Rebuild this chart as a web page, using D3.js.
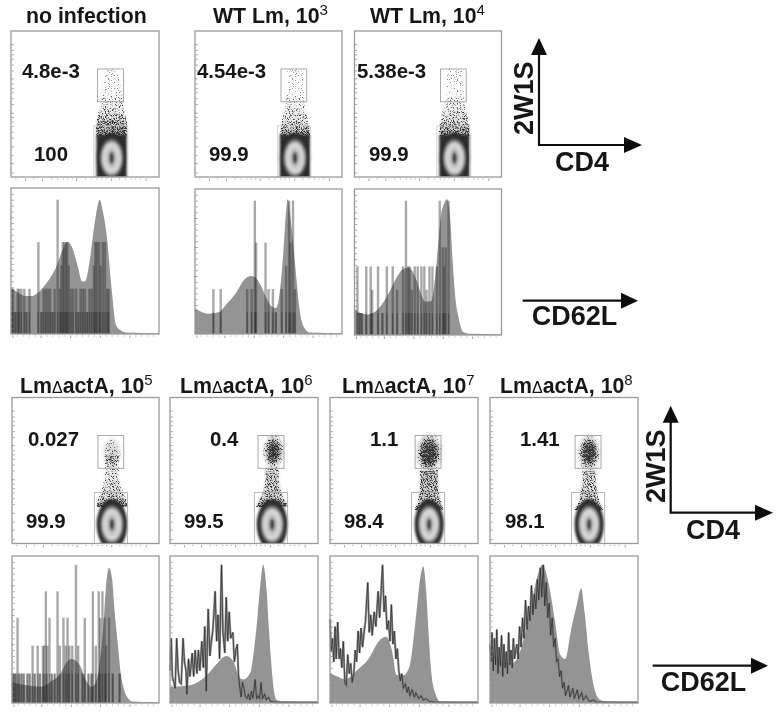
<!DOCTYPE html>
<html><head><meta charset="utf-8">
<style>html,body{margin:0;background:#fff}svg{display:block}text{font-family:"Liberation Sans",Arial,sans-serif;font-weight:bold;fill:#161616}</style>
<script src="https://cdn.jsdelivr.net/npm/d3@7"></script></head><body>
<svg id="c" width="778" height="714"></svg>
<script>
// ---- titles and readouts
const titles=[["no infection",""],["WT Lm, 10","3"],["WT Lm, 10","4"],["Lm|actA, 10","5"],["Lm|actA, 10","6"],["Lm|actA, 10","7"],["Lm|actA, 10","8"]];
const upperValues=["4.8e-3","4.54e-3","5.38e-3","0.027","0.4","1.1","1.41"];
const lowerValues=["100","99.9","99.9","99.9","99.5","98.4","98.1"];
// ---- density of the dot plots: [level, half width, density]
const cloud0=[[27,10.5,.9],[31,10.5,.8],[35,10.5,.62],[39,10,.45],[44,9,.3],[50,7.5,.18],[58,6.5,.09],[66,6,.05],[74,3,.02]];
const cloud1=[[27,10.5,.9],[31,10,.65],[35,9.5,.45],[40,8.5,.3],[46,7,.2],[52,6,.12],[60,6,.05],[74,5,.02]];
const cloud2=[[27,10.5,.9],[31,10.3,.72],[35,10,.52],[40,9,.36],[46,8,.22],[52,6.5,.12],[60,6,.05],[74,5,.03]];
const cloud3=[[25,10.5,.9],[30,9.5,.55],[35,7.5,.4],[40,6,.34],[45,5,.28],[51,4.5,.25],[60,5,.2]];
const cloud4=[[25,10.5,.9],[30,8.5,.55],[35,6,.55],[41,5,.55],[47,4.5,.5],[52,5,.45]];
const cloud5=[[23,9.5,.9],[28,8,.6],[35,6.5,.65],[42,6,.65],[50,6,.65]];
const cloud6=[[23,9.5,.9],[28,7,.55],[35,5.5,.55],[42,4.5,.5],[50,5,.5]];
const clouds=[cloud0,cloud1,cloud2,cloud3,cloud4,cloud5,cloud6];
// [centre, level, half width, half height, density]
const clusters=[[],[],[],[[68,63,7,11,.55]],[[70,63,8,13,1],[70,63,4.5,9,1]],[[67,62,10,15,1],[67,62,7,11,1]],[[67,62,8.5,14,1],[67,63,5.5,9,1]]];
const coreCentres=[68,68,68,68,69,67,67];
// contour levels: half width, half height, tone
const contours=[[10.4,17.5,"#2c2c2c"],[8.6,14.5,"#3c3c3c"],[7.4,12.4,"#8e8e8e"],[6.4,10.6,"#d4d4d4"],[3.4,6.8,"#c0c0c0"],[2,4.8,"#858585"],[1.2,3.2,"#3a3a3a"]];
// ---- filled histograms: [position, height]
const fill0=[[0,32],[5,28],[10,26],[14,26],[18,28],[24,35],[31,47],[35,58],[38,63],[41,60],[45,47],[48,36],[50,36],[53,49],[56,72],[60,92],[62,84],[64.5,69],[68,31],[71,6],[74,2.5],[78,1],[100,.5]];
const fill1=[[0,18],[5,15],[9,14],[16,15],[21,20],[27,27],[34,38],[38,40],[41,39],[45,33],[49,24],[52,19],[55,18],[57,24],[60,55],[62,85],[63,93],[65,80],[67,60],[69,38],[71,18],[74,5],[78,1],[100,.5]];
const fill2=[[0,18],[4,15],[8,14],[14,16],[20,23],[25,32],[29,40],[33,45],[37,46],[42,38],[45,29],[48,23],[52,23],[54,32],[56,51],[59,83],[61,90],[63,93],[65,81],[67,47],[69,22],[70.6,13],[74,2],[78,.8],[100,.5]];
const fill3=[[0,14],[10,12],[20,11],[27,15],[33,20],[36,26],[40,30],[43,29],[47,24],[50,16],[54,11],[57,14],[60,30],[62,50],[64,80],[66,92],[68,85],[70,60],[72,40],[74,20],[76,10],[79,3],[82,1],[100,.5]];
const fill4=[[0,11],[2,11],[13.5,12],[25,19],[31,26],[38,32],[43,28],[47,17],[49.5,16],[54,20],[56,30],[58.4,51],[61,80],[63,94],[65,80],[67,48],[68.5,26],[70,10],[72,2],[76,1],[100,.5]];
const fill5=[[0,20],[5,18],[10,16],[19,23],[26,30],[33,42],[38,45],[42,35],[45,19],[50,19],[54,26],[57.5,53],[61,85],[63,93],[65,76],[66.5,50],[68,26],[71,7],[74.5,1],[100,.5]];
const fill6=[[0,35],[4,32],[8,28],[15,27],[21,37],[26,58],[30.5,80],[35.4,94],[39.5,82],[44,55],[47.4,33],[50.8,30],[55,51],[58.7,67],[61.6,78],[63.9,62],[66.6,35],[70,12],[74.5,2],[79,1],[100,.5]];
const fills=[fill0,fill1,fill2,fill3,fill4,fill5,fill6];
// ---- sparse histograms: event bars [position, height]
const bars0=[[.5,31],[1.5,31],[3,15],[4.5,31],[5.5,31],[7,31],[9,31],[10.5,15],[12.5,31],[18.5,63],[20.5,15],[22,31],[23.5,31],[25,31],[26.5,31],[28,15],[29.5,31],[31.5,92],[33,31],[34,47],[35,63],[36,63],[37,63],[38,63],[39,47],[40.5,31],[42,31],[44,31],[45.5,15],[47,31],[48.5,31],[50,31],[51.5,15],[53,31],[54.5,31],[56,47],[57,63],[58,63],[59.5,63],[60.5,47],[62,63],[63.5,63],[65,31],[66,31]];
const bars1=[[12.5,31],[17.5,31],[35.5,31],[38.5,31],[40.7,92],[41.5,63],[48,63],[50,31],[53,31],[55,15],[59,31],[62,47],[64,92],[65,63],[66.7,92],[68,31]];
const bars2=[[2,47],[3.5,15],[5,15],[8,47],[11,47],[12,31],[16,47],[19,15],[22,47],[26,47],[29,31],[33,47],[35,92],[36.5,47],[37.5,47],[39,31],[41,47],[43,47],[45.5,47],[47.5,47],[49,31],[51,47],[53,47],[56,47],[58,92],[60,60],[61,47],[62,60],[64,92]];
const bars3=[[.5,20],[1.5,20],[2.5,20],[3.8,58],[5,20],[6.5,20],[8,20],[10.5,20],[12,20],[14,39],[15.5,20],[17.5,39],[19,20],[21,39],[22,39],[23,76],[24,39],[25.5,58],[27,20],[29,20],[31,76],[32.5,39],[35,58],[36.5,39],[37.8,58],[39,39],[41,39],[43.5,94],[45,39],[48,20],[49.5,58],[52,20],[54,20],[55,76],[57,39],[59,76],[60,58],[61.5,76],[63,58],[64,39],[66,58],[68.5,20],[73.2,20]];
const barsSets=[bars0,bars1,bars2,bars3];
// ---- noisy histograms: [position, height]
const line4=[[0,22],[.8,44],[1.6,18],[2.6,14],[3.5,10],[4.5,44],[5.5,22],[6.5,14],[7.6,13],[8.8,44],[9.8,28],[10.8,22],[11.4,6],[12.5,30],[13.5,18],[15,34],[16,18],[17,36],[18.2,20],[19.2,36],[20.2,22],[21.5,42],[22.5,24],[23.5,52],[24.5,8],[25.8,64],[27,32],[28,42],[29,50],[30.5,76],[31.5,42],[32.5,60],[33.5,30],[34.8,94],[35.8,48],[37,34],[38,72],[39,42],[40,62],[41,44],[42.5,48],[43.5,28],[44.5,36],[45.5,40],[46.2,20],[47,12],[48,4],[49,14],[50,10],[51,4],[52,3],[53,6],[54,2],[55,8],[56,3],[57.5,16],[58.5,3],[59.5,5],[60.5,3],[61.5,14],[62.5,3],[64,6],[65,2],[66.5,4],[68,1],[72,.5],[100,.5]];
const line5=[[0,57],[.8,35],[1.6,44],[2.6,28],[3.4,52],[4.2,30],[5.2,55],[6.2,30],[7,37],[8,24],[9,42],[10,14],[11,12],[12,33],[13,20],[14,27],[15,14],[16.2,21],[17,36],[18,28],[19,49],[20,34],[21,51],[22,38],[23,48],[24,56],[25.5,82],[26.5,48],[27.5,60],[28.5,46],[29.8,62],[31,52],[32.5,76],[33.5,58],[34.2,70],[35.5,94],[36.5,62],[37.5,73],[38.5,50],[39.5,56],[40.5,42],[41.5,67],[42.5,40],[43.5,49],[44.5,30],[45.5,37],[46.5,22],[47.5,15],[48.5,20],[49.5,10],[51,13],[52,7],[53,11],[54,5],[55.5,9],[57,4],[58,7],[60,3],[61.5,5],[63,2],[65,3],[67,1],[72,.5],[100,.5]];
const line6=[[0,40],[.7,28],[1.4,48],[2.2,22],[3,44],[3.8,26],[4.6,50],[5.4,20],[6.2,38],[7,25],[7.8,46],[8.6,18],[9.4,40],[10.2,24],[11,35],[11.8,20],[12.6,48],[13.4,26],[14.2,36],[15,24],[15.8,44],[16.6,30],[17.4,36],[18.2,40],[19,30],[20,52],[21,38],[22,58],[23,44],[24,70],[25,50],[26,66],[27,56],[28,80],[29,60],[30,74],[31,64],[32,84],[33,70],[34,92],[35,72],[36,94],[37,66],[38,82],[39,58],[40,68],[41,46],[42,58],[43,38],[44,44],[45,28],[46,30],[47,18],[48,22],[49,10],[50,14],[51,5],[52,8],[53,12],[54,4],[55,7],[56,10],[57,3],[58,6],[59,9],[60,3],[62,7],[63,2],[65,5],[67,1],[70,2],[72,.5],[100,.5]];
const noisy={4:line4,5:line5,6:line6};
// ---- axis tick positions
const majorTicks=[9.5,21,44,67.5,91];
const minorTicks=[3,15,27,31,35,38,41,50,54,58,61,64,73,77,81,84,87];
const histMajor=[1,20,40,60,80];
const histMinor=[4,8,12,16,24,28,32,36,44,48,52,56,64,68,72,76,84,88,92,96];

// ---- layout
const lefts=[11,195,354.5,12,170,330,490];
const widths=[148,147,147,147,148,148,148];
const dotTops=[31,31,31,397.5,397.5,397.5,397.5];
const histTops=[188,189,189,556,556,556,556];
const panelH=146,histH=[146,145,146,147,147,147,147];
const titlePos=[[26,22.5],[213,23],[370,23],[20,393],[180,393],[342,393],[500,393]];
const upperPos=[[22,78],[197,78],[357,78],[28,446],[210,446],[370,446],[520,446]];
const lowerPos=[[34,161],[209,161],[369,161],[26,528],[184,528],[344,528],[505,528]];
const frame="#9a9a9a",tick="#808080";

const svg=d3.select("#c");
const defs=svg.append("defs");
const soft=defs.append("filter").attr("id","soft").attr("x","-2%").attr("y","-2%").attr("width","104%").attr("height","104%");
soft.append("feGaussianBlur").attr("stdDeviation",.45);
defs.append("filter").attr("id","wash").attr("x","-30%").attr("y","-30%").attr("width","160%").attr("height","160%").append("feGaussianBlur").attr("stdDeviation",1.3);
defs.append("filter").attr("id","contourSoft").attr("x","-20%").attr("y","-20%").attr("width","140%").attr("height","140%").append("feGaussianBlur").attr("stdDeviation",.8);
const st=defs.append("filter").attr("id","stipple").attr("x","-20%").attr("y","-20%").attr("width","140%").attr("height","140%").attr("color-interpolation-filters","sRGB");
st.append("feTurbulence").attr("type","fractalNoise").attr("baseFrequency",1.3).attr("numOctaves",1).attr("seed",7).attr("result","n");
st.append("feColorMatrix").attr("in","n").attr("type","matrix").attr("values","0 0 0 0 0  0 0 0 0 0  0 0 0 0 0  2.6 0 0 0 -.8").attr("result","m");
st.append("feComposite").attr("in","SourceAlpha").attr("in2","m").attr("operator","arithmetic").attr("k1",0).attr("k2",1).attr("k3",1).attr("k4",-1).attr("result","a");
st.append("feColorMatrix").attr("in","a").attr("type","matrix").attr("values","0 0 0 0 .18  0 0 0 0 .18  0 0 0 0 .18  0 0 0 2.2 0");
const rg=defs.append("radialGradient").attr("id","blob");
rg.append("stop").attr("offset","0").attr("stop-color","#000").attr("stop-opacity",.95);
rg.append("stop").attr("offset",".6").attr("stop-color","#000").attr("stop-opacity",.7);
rg.append("stop").attr("offset","1").attr("stop-color","#000").attr("stop-opacity",0);

const root=svg.append("g").attr("filter","url(#soft)");

function axes(g,x,y,W,H,maj,min){
  [[min,2],[maj,3.5]].forEach(([vals,s])=>{
    g.append("g").attr("transform",`translate(${W*.012+1},0)`).call(d3.axisLeft(y).tickValues(vals).tickSize(s).tickFormat("")).call(a=>{a.select(".domain").remove();a.selectAll("line").attr("stroke",tick).attr("stroke-width",.7)});
    g.append("g").attr("transform",`translate(0,${H+1.5})`).call(d3.axisBottom(x).tickValues(vals).tickSize(s-1).tickFormat("")).call(a=>{a.select(".domain").remove();a.selectAll("line").attr("stroke",tick).attr("stroke-width",.7)});
  });
  g.append("rect").attr("width",W).attr("height",H).attr("fill","none").attr("stroke",frame).attr("stroke-width",1.3);
}

lefts.forEach((L,i)=>{
  const W=widths[i];
  const x=d3.scaleLinear([0,100],[0,W]);
  // dot plot
  const H=panelH,y=d3.scaleLinear([0,100],[H,0]);
  const g=root.append("g").attr("transform",`translate(${L},${dotTops[i]})`);
  const cid="clip"+i;
  defs.append("clipPath").attr("id",cid).append("rect").attr("width",W).attr("height",H);
  const cx=coreCentres[i];
  const pl=g.append("g").attr("clip-path",`url(#${cid})`);
  const prof=clouds[i];
  const drawShapes=(grp,k,floor)=>{
    d3.pairs(prof).forEach(([a,b])=>{
      const rows=Math.max(1,Math.round(y(a[0])-y(b[0])));
      d3.range(rows).forEach(r=>{
        const t=r/rows,lvl=a[0]+(b[0]-a[0])*t,hw=a[1]+(b[1]-a[1])*t,den=a[2]+(b[2]-a[2])*t;
        grp.append("rect").attr("x",x(cx-hw)).attr("width",x(2*hw)).attr("y",y(lvl)-1).attr("height",1).attr("fill","#000").attr("opacity",Math.min(1,floor+den*k));
      });
    });
    clusters[i].forEach(b=>{
      grp.append("ellipse").attr("cx",x(b[0])).attr("cy",y(b[1])).attr("rx",x(b[2])).attr("ry",H-y(b[3])).attr("fill","url(#blob)").attr("opacity",b[4]*Math.max(k,.3));
    });
  };
  drawShapes(pl.append("g").attr("filter","url(#wash)"),.3,0);
  drawShapes(pl.append("g").attr("filter","url(#stipple)"),.78,.24);
  const core=pl.append("g").attr("filter","url(#contourSoft)");
  if(i<3) core.append("rect").attr("x",x(cx-10.3)).attr("width",x(20.6)).attr("y",y(29)).attr("height",y(0)-y(29)+3).attr("rx",2).attr("fill","#2e2e2e");
  const cy=13;
  contours.forEach(c=>{
    const rx=c[0]*(i>=5?.95:1);
    core.append("ellipse").attr("cx",x(cx)).attr("cy",y(cy)).attr("rx",x(rx)).attr("ry",H-y(c[1])).attr("fill",c[2]);
  });
  // gates
  const gateTone=i<3?"#cccccc":"#a8a8a8";
  g.append("rect").attr("x",x(cx-9.5)).attr("width",x(17.5)).attr("y",y(74)).attr("height",y(51.5)-y(74)).attr("fill","none").attr("stroke","#a0a0a0").attr("stroke-width",.9);
  g.append("rect").attr("x",x(cx-12)).attr("width",x(22.5)).attr("y",y(35)).attr("height",y(0)-y(35)).attr("fill","none").attr("stroke",gateTone).attr("stroke-width",.8);
  axes(g,x,y,W,H,majorTicks,minorTicks);
  // histogram
  const HH=histH[i],yh=d3.scaleLinear([0,100],[HH,0]);
  const h=root.append("g").attr("transform",`translate(${L},${histTops[i]})`);
  const area=d3.area().x(d=>x(d[0])).y0(yh(0)).y1(d=>yh(d[1])).curve(d3.curveMonotoneX);
  h.append("path").attr("d",area(fills[i])).attr("fill","#949494");
  if(i<4){
    h.selectAll("rect.bar").data(barsSets[i]).join("rect").attr("class","bar")
      .attr("x",d=>x(d[0])-1.2).attr("width",2.4).attr("y",d=>yh(d[1])).attr("height",d=>yh(0)-yh(d[1]))
      .attr("fill","#2a2a2a").attr("fill-opacity",.4);
    const lowH=i==3?20:15;
    h.selectAll("rect.low").data(barsSets[i]).join("rect").attr("class","low")
      .attr("x",d=>x(d[0])-.7).attr("width",1.4).attr("y",d=>yh(Math.min(d[1],lowH))).attr("height",d=>yh(0)-yh(Math.min(d[1],lowH)))
      .attr("fill","#111").attr("fill-opacity",.3);
  } else {
    const ln=d3.line().x(d=>x(d[0])).y(d=>yh(d[1]));
    h.append("path").attr("d",ln(noisy[i])).attr("fill","none").attr("stroke","#7c7c7c").attr("stroke-width",2.2).attr("stroke-opacity",.8);
    h.append("path").attr("d",ln(noisy[i])).attr("fill","none").attr("stroke","#242424").attr("stroke-width",.8).attr("stroke-opacity",.85);
  }
  axes(h,x,yh,W,HH,histMajor,histMinor);
  // text
  const t=root.append("text").attr("x",titlePos[i][0]).attr("y",titlePos[i][1]).attr("font-size",21.3);
  const parts=titles[i][0].split("|");
  t.append("tspan").text(parts[0]);
  if(parts[1]!==undefined){t.append("tspan").attr("font-size",16).attr("font-weight","normal").text("Δ");t.append("tspan").text(parts[1]);}
  if(titles[i][1]) t.append("tspan").attr("dy",-8).attr("font-size",15).attr("font-weight","normal").text(titles[i][1]);
  root.append("text").attr("x",upperPos[i][0]).attr("y",upperPos[i][1]).attr("font-size",20.4).text(upperValues[i]);
  root.append("text").attr("x",lowerPos[i][0]).attr("y",lowerPos[i][1]).attr("font-size",20.4).text(lowerValues[i]);
});

// ---- direction keys
function head(x0,y0,dx,dy,len,half){
  root.append("path").attr("fill","#111").attr("d",d3.line()([[x0,y0],[x0-dx*len+dy*half,y0-dy*len+dx*half],[x0-dx*len-dy*half,y0-dy*len-dx*half]])+"Z");
}
function key(cx,cy,topY,rightX,labX,labBase,cdX,cdBase){
  root.append("path").attr("fill","none").attr("stroke","#111").attr("stroke-width",2.2).attr("d",d3.line()([[cx,topY+10],[cx,cy],[rightX-10,cy]]));
  head(cx,topY,0,-1,17,8);head(rightX,cy,1,0,18,8);
  root.append("text").attr("transform",`translate(${labX},${labBase}) rotate(-90)`).attr("font-size",27).text("2W1S");
  root.append("text").attr("x",cdX).attr("y",cdBase).attr("font-size",27).text("CD4");
}
function keyH(x0,x1,y,tx,ty){
  root.append("line").attr("x1",x0).attr("x2",x1-10).attr("y1",y).attr("y2",y).attr("stroke","#111").attr("stroke-width",2.2);
  head(x1,y,1,0,17,8);
  root.append("text").attr("x",tx).attr("y",ty).attr("font-size",27).text("CD62L");
}
key(539,145,38,642,533,135,555,171);
key(670.7,512.7,405.7,773,665,503,686,539);
keyH(522.7,638,300.7,531.7,325);
keyH(652.7,768,665.7,660.7,691);
</script></body></html>
